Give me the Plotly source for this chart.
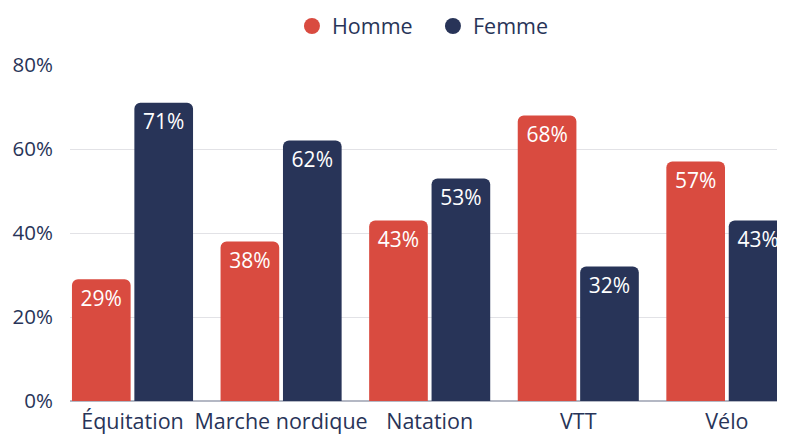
import plotly.graph_objects as go

categories = ["Équitation", "Marche nordique", "Natation", "VTT", "Vélo"]
homme = [29, 38, 43, 68, 57]
femme = [71, 62, 53, 32, 43]
series_names = ["Homme", "Femme"]
y_ticks = [0, 20, 40, 60, 80]
y_ticklabels = ["0%", "20%", "40%", "60%", "80%"]

RED = "#d94b40"
NAVY = "#283458"
FONT = "Open Sans"

fig = go.Figure()
for name, vals, col in [(series_names[0], homme, RED), (series_names[1], femme, NAVY)]:
    fig.add_trace(go.Bar(
        x=categories, y=vals, name=name, marker=dict(color=col, line=dict(width=0)),
        text=[f"{v}%" for v in vals], textposition="inside", insidetextanchor="end",
        textfont=dict(color="white", size=21, family=FONT), textangle=0,
        showlegend=False, cliponaxis=False,
    ))
    fig.add_trace(go.Scatter(
        x=[None], y=[None], mode="markers", name=name,
        marker=dict(color=col, size=22, symbol="circle"), showlegend=True,
    ))

fig.update_layout(
    width=785, height=434,
    margin=dict(l=62, r=0, t=57, b=41),
    paper_bgcolor="white", plot_bgcolor="white",
    barmode="group", bargap=0.16, bargroupgap=0.06, barcornerradius=6,
    font=dict(family=FONT, color=NAVY, size=21),
    legend=dict(orientation="h", x=0.307, xanchor="left", y=0.9585, yanchor="middle",
                yref="container", font=dict(size=21.5, color=NAVY, family=FONT),
                itemsizing="trace", itemwidth=30, entrywidth=96, entrywidthmode="pixels"),
    uniformtext=dict(minsize=10, mode=False),
)
fig.update_xaxes(range=[-0.4206, 4.445], showgrid=False, showline=False, ticks="",
                 tickfont=dict(size=21.5, color=NAVY, family=FONT), ticklabelstandoff=5)
fig.update_yaxes(range=[0, 80], tickvals=y_ticks, ticktext=y_ticklabels,
                 showgrid=True, gridcolor="#e2e2e6", gridwidth=1,
                 zeroline=True, zerolinecolor="#b4b8c4", zerolinewidth=2,
                 showline=False, ticks="", ticklabelstandoff=16,
                 tickfont=dict(size=20.5, color=NAVY, family=FONT))

fig.write_html("out.html")
